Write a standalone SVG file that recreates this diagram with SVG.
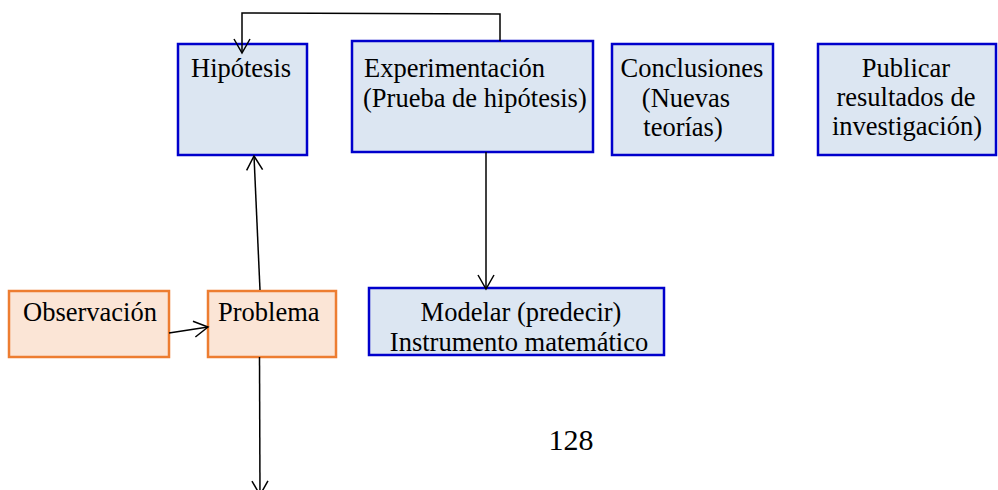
<svg xmlns="http://www.w3.org/2000/svg" width="998" height="490" viewBox="0 0 998 490">
<defs>
<style>
.blue{fill:#dce6f2;stroke:#0000cc;stroke-width:2.5}
.orange{fill:#fbe5d6;stroke:#ed7d31;stroke-width:2.5}
.t{font-family:"Liberation Serif","Times New Roman",serif;font-size:26.5px;fill:#000}
.c{text-anchor:middle}
.conn{fill:none;stroke:#000;stroke-width:1.5}
</style>
<marker id="open" markerUnits="userSpaceOnUse" markerWidth="20" markerHeight="20" refX="0" refY="0" viewBox="-16 -10 18 20" orient="auto">
<path d="M -14 -8 L 0 0 L -14 8" fill="none" stroke="#000" stroke-width="1.5"/>
</marker>
</defs>
<g id="hipotesis">
<rect class="blue" x="178" y="44" width="129" height="111"/>
<text class="t" x="191" y="77">Hipótesis</text>
</g>
<g id="experimentacion">
<rect class="blue" x="352" y="41" width="241" height="111"/>
<text class="t" x="364" y="77">Experimentación</text>
<text class="t" x="363" y="107">(Prueba de hipótesis)</text>
</g>
<g id="conclusiones">
<rect class="blue" x="612" y="44" width="161" height="111"/>
<text class="t c" x="692" y="77">Conclusiones</text>
<text class="t c" x="686" y="107">(Nuevas</text>
<text class="t c" x="683" y="136">teorías)</text>
</g>
<g id="publicar">
<rect class="blue" x="818" y="44" width="178" height="111"/>
<text class="t c" x="906" y="77">Publicar</text>
<text class="t c" x="906" y="106">resultados de</text>
<text class="t c" x="907" y="135">investigación)</text>
</g>
<g id="observacion">
<rect class="orange" x="9" y="291" width="160" height="66"/>
<text class="t" x="23" y="321">Observación</text>
</g>
<g id="problema">
<rect class="orange" x="208" y="291" width="128" height="66"/>
<text class="t" x="218" y="321">Problema</text>
</g>
<g id="modelar">
<rect class="blue" x="369" y="288" width="295" height="67"/>
<text class="t c" x="521" y="321">Modelar (predecir)</text>
<text class="t c" x="519" y="351">Instrumento matemático</text>
</g>
<g id="pagina">
<text class="t c" x="571" y="450" style="font-size:30px">128</text>
</g>
<g id="connectors">
<polyline class="conn" points="500,41 500,14 242,13 242,53" marker-end="url(#open)"/>
<line class="conn" x1="486" y1="152" x2="486" y2="289" marker-end="url(#open)"/>
<line class="conn" x1="169" y1="333" x2="208" y2="327" marker-end="url(#open)"/>
<line class="conn" x1="260" y1="290" x2="254" y2="156" marker-end="url(#open)"/>
<line class="conn" x1="259.5" y1="357" x2="260" y2="495" marker-end="url(#open)"/>
</g>
</svg>
